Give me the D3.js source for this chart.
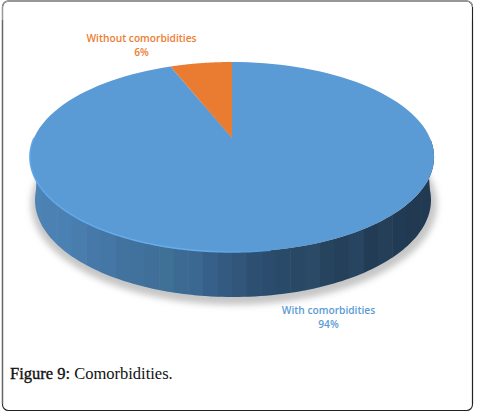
<!DOCTYPE html>
<html><head><meta charset="utf-8">
<script src="https://cdnjs.cloudflare.com/ajax/libs/d3/7.8.5/d3.min.js"></script>
<style>html,body{margin:0;padding:0;background:#fff}svg{display:block}</style>
</head><body><svg id="c" width="477" height="413"></svg>
<script>
const categories = ["With comorbidities", "Without comorbidities"];
const values = [94, 6];
const percentLabels = ["94%", "6%"];
const colors = ["#5b9bd5", "#e97c30"];
const labelColors = ["#5b9bd5", "#ed7d31"];
const sideShades = ["#4d84b6","#4b81b3","#4a80b2","#487dae","#4679a9","#4477a6","#42739f","#41729e","#40709a","#3f7096","#3c6a93","#3b6891","#36608a","#335a80","#31567a","#2d4f72","#2b4c6d","#2a4a69","#294866","#2a4a66","#27445f","#25405b","#274460","#233c56","#253f58","#223b54","#213a52","#213a52"];

const svg = d3.select("#c");
const defs = svg.append("defs");
defs.append("filter").attr("id","blur").attr("x","-10%").attr("y","-10%").attr("width","120%").attr("height","120%")
  .append("feGaussianBlur").attr("stdDeviation",3);
const rimGrad = defs.append("linearGradient").attr("id","rim").attr("gradientUnits","userSpaceOnUse")
  .attr("x1",30).attr("x2",270).attr("y1",0).attr("y2",0);
rimGrad.append("stop").attr("offset",0).attr("stop-color","#62a8e8");
rimGrad.append("stop").attr("offset",0.7).attr("stop-color","#66aeee");
rimGrad.append("stop").attr("offset",1).attr("stop-color","#5b9bd5");

// frame
svg.append("rect").attr("x",2.5).attr("y",1).attr("width",470).attr("height",409.5).attr("rx",6)
  .attr("fill","#fff").attr("stroke","#222").attr("stroke-width",1.1);
svg.append("path").attr("d","M2.5,404 V7 A6,6 0 0 1 8.5,1 H466 A6,6 0 0 1 472.5,7").attr("fill","none").attr("stroke","#999").attr("stroke-width",1.3);
svg.append("line").attr("x1",2.5).attr("x2",2.5).attr("y1",20).attr("y2",404).attr("stroke","#666").attr("stroke-width",1.2);
svg.append("line").attr("x1",472.5).attr("x2",472.5).attr("y1",20).attr("y2",404).attr("stroke","#222").attr("stroke-width",1.1);

// Projection of a flat disc seen in perspective
const cx = 232, topY = 62, apexDy = 76, k = 198, c = 0.2;
function project(angle, r = 1) {
  const u = r * Math.sin(angle), v = -r * Math.cos(angle), w = 1 - c * v;
  return [cx + k * u / w, topY + apexDy * (1 + v) / w];
}
const pie = d3.pie().sort(null).value(d => d);
const arcs = pie(values);
const line = d3.line();
const sweep = (a0, a1) => d3.range(0, 121).map(i => project(a0 + (a1 - a0) * i / 120));

// Lower rim
const side = {cx: 233, cy: 200, rx: 198, ry: 97};
const lowerPt = t => [side.cx + side.rx * Math.sin(t), side.cy - side.ry * Math.cos(t)];

// shadow
svg.append("ellipse").attr("cx",side.cx+1).attr("cy",side.cy+4).attr("rx",side.rx+5).attr("ry",side.ry+4)
  .attr("fill","#c6c6c6").attr("filter","url(#blur)");

// side wall: clip + vertical bands
const aL = 1.5*Math.PI + 0.1, aR = 0.5*Math.PI - 0.1;
const wallPts = sweep(aL, aR).concat(d3.range(0,121).map(i => lowerPt(aR + (aL - aR) * i / 120)));
defs.append("clipPath").attr("id","wall").append("path").attr("d", line(wallPts) + "Z");
const band = d3.scaleBand().domain(d3.range(sideShades.length)).range([28, 436]);
svg.append("g").attr("clip-path","url(#wall)").selectAll("rect").data(sideShades).join("rect")
  .attr("x",(d,i)=>band(i)).attr("width",band.bandwidth()+0.5)
  .attr("y",140).attr("height",170).attr("fill",d=>d);

// top face
svg.append("g").selectAll("path").data(arcs).join("path")
  .attr("d", d => line([project(0, 0)].concat(sweep(d.startAngle, d.endAngle))) + "Z")
  .attr("fill", (d, i) => colors[i]);

// highlight on front-left rim
svg.append("path").attr("d", line(sweep(1.5*Math.PI, Math.PI*0.95))).attr("fill","none")
  .attr("stroke","url(#rim)").attr("stroke-width",1.5);

// labels
const labelPos = [[328.5, 313.5], [141.5, 41.5]];
labelPos.forEach((p, i) => {
  const t = svg.append("text").attr("text-anchor","middle").attr("font-family","'Open Sans'")
    .attr("font-size",10.2).attr("font-weight",600).attr("fill",labelColors[i]);
  t.append("tspan").attr("x",p[0]).attr("y",p[1]).text(categories[i]);
  t.append("tspan").attr("x",p[0]).attr("y",p[1]+14.5).text(percentLabels[i]);
});

// caption
const cap = svg.append("text").attr("x",10).attr("y",379).attr("font-family","'Liberation Serif'")
  .attr("font-size",16.5).attr("fill","#111");
cap.append("tspan").attr("stroke","#111").attr("stroke-width",0.35).text("Figure 9:");
cap.append("tspan").text(" Comorbidities.");
</script></body></html>
